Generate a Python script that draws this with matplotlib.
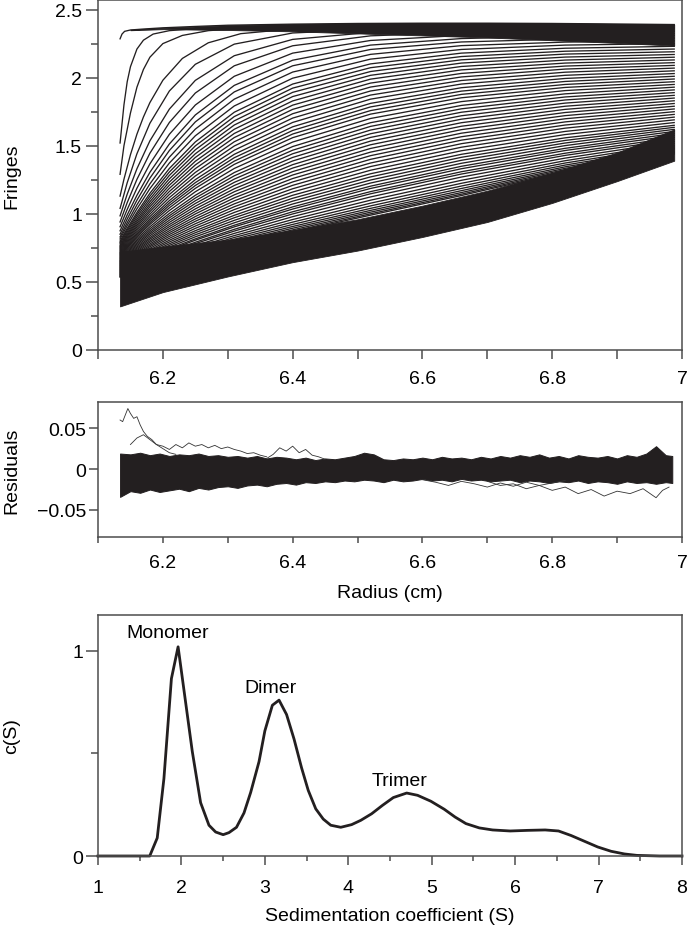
import numpy as np
import matplotlib.pyplot as plt

plt.rcParams['font.family'] = ['Liberation Sans', 'DejaVu Sans']
plt.rcParams['font.size'] = 14

INK = '#231f20'
SPINE = '#4d4d4d'

# ---------------- top panel: interference scans (fringes vs radius) ----------------
# first scans, read individually (steep rise at the meniscus)
scan1_r = [6.134, 6.137, 6.141, 6.15, 6.17, 6.2, 6.25, 6.3, 6.4, 6.5, 6.6, 6.7, 6.8, 6.9, 6.988]
scan1_f = [2.285, 2.32, 2.34, 2.35, 2.357, 2.366, 2.376, 2.385, 2.393, 2.398, 2.40, 2.40, 2.398, 2.394, 2.39]
scan2_r = [6.134, 6.14, 6.145, 6.15, 6.16, 6.17, 6.185, 6.21, 6.25, 6.3, 6.4, 6.5, 6.6, 6.7, 6.8, 6.9, 6.988]
scan2_f = [1.52, 1.80, 1.97, 2.08, 2.21, 2.275, 2.32, 2.345, 2.36, 2.372, 2.385, 2.392, 2.396, 2.396, 2.393, 2.389, 2.385]
scan3_r = [6.134, 6.14, 6.15, 6.16, 6.17, 6.18, 6.2, 6.23, 6.27, 6.32, 6.4, 6.5, 6.6, 6.7, 6.8, 6.9, 6.988]
scan3_f = [1.29, 1.50, 1.74, 1.93, 2.06, 2.15, 2.25, 2.31, 2.345, 2.362, 2.374, 2.383, 2.388, 2.39, 2.388, 2.384, 2.38]
scan4_f = [1.13, 1.254, 1.434, 1.585, 1.711, 1.817, 1.981, 2.141, 2.256, 2.323, 2.358, 2.367, 2.372, 2.372, 2.371, 2.37, 2.37]

# later scans, fringe value of every scan read at fixed radii
scan_radii = [6.134, 6.145, 6.16, 6.18, 6.21, 6.25, 6.31, 6.4, 6.52, 6.66, 6.82, 6.988]
f_6134 = [1.04, 0.985, 0.94, 0.905, 0.875, 0.85, 0.83, 0.815, 0.80, 0.79, 0.78, 0.77, 0.762, 0.755, 0.748,
          0.741, 0.734, 0.727, 0.72, 0.714, 0.708, 0.702, 0.696, 0.69, 0.684, 0.678, 0.672, 0.666, 0.66,
          0.655, 0.65, 0.645, 0.64, 0.635, 0.63, 0.625, 0.62, 0.615, 0.61, 0.605, 0.60, 0.595, 0.59, 0.585,
          0.58, 0.575, 0.57, 0.565, 0.56, 0.555, 0.55, 0.545, 0.54, 0.535]
f_6145 = [1.228, 1.144, 1.082, 1.032, 0.992, 0.962, 0.935, 0.914, 0.893, 0.880, 0.867, 0.854, 0.843, 0.833,
          0.822, 0.812, 0.802, 0.792, 0.783, 0.774, 0.766, 0.758, 0.750, 0.741, 0.733, 0.725, 0.717, 0.709,
          0.702, 0.695, 0.688, 0.682, 0.675, 0.668, 0.662, 0.655, 0.649, 0.643, 0.636, 0.630, 0.624, 0.618,
          0.612, 0.606, 0.600, 0.594, 0.588, 0.582, 0.576, 0.57, 0.565, 0.56, 0.555, 0.55]
f_6160 = [1.441, 1.331, 1.253, 1.188, 1.136, 1.100, 1.066, 1.037, 1.010, 0.994, 0.977, 0.960, 0.945, 0.931,
          0.917, 0.904, 0.890, 0.877, 0.863, 0.852, 0.841, 0.831, 0.819, 0.807, 0.797, 0.786, 0.776, 0.766,
          0.756, 0.747, 0.738, 0.729, 0.721, 0.712, 0.704, 0.695, 0.687, 0.679, 0.671, 0.663, 0.656, 0.648,
          0.642, 0.634, 0.628, 0.620, 0.613, 0.606, 0.60, 0.594, 0.588, 0.582, 0.577, 0.572]
f_6180 = [1.665, 1.536, 1.445, 1.367, 1.305, 1.262, 1.220, 1.185, 1.151, 1.130, 1.109, 1.089, 1.070, 1.052,
          1.033, 1.016, 0.998, 0.980, 0.963, 0.949, 0.935, 0.922, 0.905, 0.890, 0.876, 0.863, 0.851, 0.838,
          0.825, 0.814, 0.802, 0.791, 0.779, 0.768, 0.758, 0.747, 0.736, 0.726, 0.716, 0.706, 0.697, 0.687,
          0.680, 0.671, 0.663, 0.654, 0.646, 0.638, 0.631, 0.624, 0.617, 0.611, 0.605, 0.60]
f_6210 = [1.902, 1.769, 1.671, 1.584, 1.513, 1.465, 1.416, 1.373, 1.333, 1.307, 1.282, 1.257, 1.233, 1.210,
          1.187, 1.164, 1.142, 1.119, 1.097, 1.079, 1.062, 1.044, 1.024, 1.003, 0.986, 0.970, 0.953, 0.937,
          0.921, 0.906, 0.891, 0.876, 0.862, 0.848, 0.834, 0.820, 0.806, 0.793, 0.780, 0.768, 0.756, 0.744,
          0.735, 0.724, 0.715, 0.704, 0.694, 0.685, 0.676, 0.668, 0.66, 0.653, 0.646, 0.64]
f_6250 = [2.098, 1.980, 1.887, 1.799, 1.726, 1.675, 1.622, 1.573, 1.528, 1.499, 1.470, 1.441, 1.414, 1.386,
          1.359, 1.332, 1.304, 1.278, 1.251, 1.229, 1.208, 1.187, 1.162, 1.136, 1.116, 1.096, 1.076, 1.056,
          1.036, 1.017, 0.999, 0.980, 0.962, 0.945, 0.927, 0.910, 0.893, 0.876, 0.861, 0.846, 0.831, 0.816,
          0.806, 0.791, 0.781, 0.767, 0.754, 0.742, 0.731, 0.721, 0.711, 0.702, 0.694, 0.686]
f_6310 = [2.246, 2.161, 2.087, 2.010, 1.943, 1.895, 1.842, 1.792, 1.746, 1.714, 1.683, 1.652, 1.621, 1.590,
          1.560, 1.529, 1.498, 1.467, 1.437, 1.412, 1.387, 1.363, 1.333, 1.303, 1.279, 1.255, 1.231, 1.208,
          1.184, 1.162, 1.139, 1.117, 1.095, 1.073, 1.052, 1.031, 1.010, 0.989, 0.971, 0.952, 0.934, 0.916,
          0.904, 0.886, 0.873, 0.856, 0.840, 0.826, 0.813, 0.801, 0.790, 0.780, 0.771, 0.763]
f_6400 = [2.328, 2.281, 2.234, 2.180, 2.128, 2.087, 2.041, 1.996, 1.953, 1.923, 1.892, 1.861, 1.829, 1.798,
          1.767, 1.735, 1.703, 1.671, 1.639, 1.612, 1.586, 1.559, 1.527, 1.494, 1.467, 1.441, 1.414, 1.388,
          1.361, 1.336, 1.310, 1.285, 1.259, 1.234, 1.209, 1.184, 1.160, 1.136, 1.114, 1.093, 1.072, 1.051,
          1.035, 1.015, 0.999, 0.979, 0.958, 0.939, 0.922, 0.907, 0.894, 0.882, 0.872, 0.864]
f_6520 = [2.354, 2.332, 2.307, 2.273, 2.239, 2.207, 2.171, 2.136, 2.101, 2.073, 2.045, 2.017, 1.989, 1.960,
          1.931, 1.902, 1.872, 1.842, 1.811, 1.785, 1.758, 1.732, 1.700, 1.669, 1.642, 1.615, 1.588, 1.561,
          1.534, 1.507, 1.480, 1.453, 1.427, 1.400, 1.373, 1.347, 1.320, 1.294, 1.271, 1.248, 1.226, 1.203,
          1.186, 1.163, 1.147, 1.124, 1.100, 1.078, 1.058, 1.040, 1.025, 1.012, 1.000, 0.99]
f_6660 = [2.359, 2.346, 2.332, 2.310, 2.287, 2.262, 2.235, 2.207, 2.180, 2.155, 2.131, 2.107, 2.082, 2.057,
          2.031, 2.005, 1.979, 1.953, 1.926, 1.901, 1.877, 1.852, 1.824, 1.796, 1.771, 1.746, 1.720, 1.695,
          1.669, 1.643, 1.618, 1.592, 1.566, 1.541, 1.515, 1.489, 1.463, 1.437, 1.415, 1.393, 1.371, 1.349,
          1.331, 1.309, 1.292, 1.270, 1.246, 1.224, 1.204, 1.186, 1.170, 1.156, 1.144, 1.134]
f_6820 = [2.36, 2.349, 2.338, 2.322, 2.305, 2.283, 2.261, 2.239, 2.216, 2.194, 2.173, 2.151, 2.129, 2.107,
          2.085, 2.063, 2.040, 2.017, 1.994, 1.972, 1.950, 1.928, 1.905, 1.881, 1.858, 1.836, 1.813, 1.790,
          1.767, 1.744, 1.721, 1.698, 1.675, 1.652, 1.629, 1.605, 1.582, 1.558, 1.539, 1.520, 1.501, 1.481,
          1.465, 1.445, 1.429, 1.409, 1.39, 1.373, 1.358, 1.345, 1.334, 1.325, 1.317, 1.31]
f_6988 = [2.36, 2.35, 2.34, 2.325, 2.31, 2.29, 2.27, 2.25, 2.23, 2.21, 2.19, 2.17, 2.15, 2.13, 2.11, 2.09,
          2.07, 2.05, 2.03, 2.01, 1.99, 1.97, 1.95, 1.93, 1.91, 1.89, 1.87, 1.85, 1.83, 1.81, 1.79, 1.77,
          1.75, 1.73, 1.71, 1.69, 1.67, 1.65, 1.635, 1.62, 1.605, 1.59, 1.575, 1.56, 1.545, 1.53,
          1.515, 1.50, 1.49, 1.48, 1.47, 1.46, 1.45, 1.44]

# densely packed scans: plateau band on top, late scans at the bottom
plateau_r = [6.15, 6.2, 6.3, 6.4, 6.5, 6.6, 6.7, 6.8, 6.9, 6.988]
plateau_hi = [2.352, 2.366, 2.385, 2.393, 2.398, 2.40, 2.40, 2.398, 2.394, 2.39]
plateau_lo = [2.348, 2.356, 2.35, 2.34, 2.325, 2.31, 2.295, 2.275, 2.255, 2.235]
late_r = [6.134, 6.2, 6.3, 6.4, 6.5, 6.6, 6.7, 6.8, 6.9, 6.988]
late_lo = [0.32, 0.425, 0.54, 0.645, 0.73, 0.83, 0.94, 1.08, 1.24, 1.39]
late_hi = [0.72, 0.76, 0.81, 0.88, 0.96, 1.06, 1.17, 1.30, 1.45, 1.62]

# ---------------- middle panel: residuals ----------------
res_r = [6.134, 6.15, 6.165, 6.18, 6.195, 6.21, 6.225, 6.24, 6.255, 6.27,
         6.285, 6.3, 6.315, 6.33, 6.345, 6.36, 6.375, 6.39, 6.405, 6.42,
         6.435, 6.45, 6.465, 6.48, 6.495, 6.51, 6.525, 6.54, 6.555, 6.57,
         6.585, 6.6, 6.615, 6.63, 6.645, 6.66, 6.675, 6.69, 6.705, 6.72,
         6.735, 6.75, 6.765, 6.78, 6.795, 6.81, 6.825, 6.84, 6.855, 6.87,
         6.885, 6.9, 6.915, 6.93, 6.945, 6.96, 6.975, 6.985]
res_hi = [0.019, 0.018, 0.020, 0.017, 0.019, 0.016, 0.018, 0.017, 0.019, 0.016,
          0.017, 0.015, 0.016, 0.014, 0.016, 0.013, 0.015, 0.014, 0.012, 0.014,
          0.011, 0.013, 0.012, 0.014, 0.016, 0.020, 0.018, 0.012, 0.011, 0.013,
          0.012, 0.014, 0.012, 0.015, 0.013, 0.014, 0.012, 0.015, 0.013, 0.016,
          0.014, 0.017, 0.015, 0.018, 0.014, 0.016, 0.013, 0.017, 0.015, 0.014,
          0.016, 0.013, 0.017, 0.015, 0.019, 0.028, 0.017, 0.016]
res_lo = [-0.034, -0.027, -0.029, -0.025, -0.028, -0.026, -0.024, -0.027, -0.023, -0.025,
          -0.022, -0.021, -0.023, -0.020, -0.019, -0.021, -0.018, -0.017, -0.019, -0.016,
          -0.017, -0.015, -0.016, -0.014, -0.015, -0.013, -0.014, -0.016, -0.013, -0.015,
          -0.014, -0.012, -0.014, -0.013, -0.015, -0.012, -0.014, -0.013, -0.015, -0.014,
          -0.013, -0.016, -0.014, -0.015, -0.017, -0.015, -0.016, -0.014, -0.017, -0.015,
          -0.016, -0.018, -0.015, -0.017, -0.016, -0.018, -0.016, -0.017]
# single traces that leave the band
out1_r = [6.134, 6.138, 6.142, 6.146, 6.15, 6.155, 6.16, 6.165, 6.17, 6.176, 6.183, 6.19, 6.2, 6.21, 6.22,
          6.23, 6.24, 6.25, 6.26, 6.27, 6.28, 6.29, 6.3, 6.31, 6.32, 6.33, 6.34, 6.35, 6.36]
out1_v = [0.06, 0.058, 0.066, 0.074, 0.068, 0.062, 0.064, 0.054, 0.046, 0.04, 0.036, 0.03, 0.028, 0.024, 0.03,
          0.026, 0.032, 0.028, 0.03, 0.026, 0.029, 0.025, 0.027, 0.024, 0.022, 0.019, 0.02, 0.017, 0.015]
out2_r = [6.15, 6.16, 6.17, 6.18, 6.19, 6.2, 6.21, 6.22]
out2_v = [0.03, 0.038, 0.042, 0.036, 0.03, 0.025, 0.02, 0.018]
out3_r = [6.36, 6.37, 6.38, 6.39, 6.4, 6.41, 6.42, 6.43, 6.44, 6.45]
out3_v = [0.013, 0.018, 0.026, 0.022, 0.028, 0.02, 0.024, 0.017, 0.015, 0.012]
out4_r = [6.7, 6.72, 6.74, 6.76, 6.78, 6.8, 6.82, 6.84, 6.86, 6.88, 6.9, 6.92, 6.94, 6.96, 6.97, 6.98]
out4_v = [-0.015, -0.02, -0.018, -0.024, -0.02, -0.026, -0.022, -0.03, -0.025, -0.033, -0.027, -0.03,
          -0.024, -0.035, -0.026, -0.022]
out5_r = [6.6, 6.62, 6.64, 6.66, 6.68, 6.7, 6.72, 6.74, 6.76, 6.78, 6.8, 6.82]
out5_v = [-0.013, -0.016, -0.02, -0.015, -0.018, -0.022, -0.017, -0.021, -0.016, -0.02, -0.017, -0.014]

# ---------------- bottom panel: c(s) distribution ----------------
s_values = [1.0, 1.5, 1.62, 1.71, 1.79, 1.88, 1.96, 2.04, 2.13, 2.23, 2.33, 2.41, 2.5, 2.57, 2.66, 2.75,
            2.83, 2.93, 3.0, 3.09, 3.17, 3.26, 3.35, 3.44, 3.52, 3.61, 3.7, 3.79, 3.91, 4.04, 4.15, 4.28,
            4.41, 4.54, 4.7, 4.83, 4.99, 5.15, 5.28, 5.41, 5.57, 5.73, 5.94, 6.15, 6.36, 6.52, 6.67, 6.83,
            6.99, 7.15, 7.31, 7.46, 7.73, 8.0]
cs_values = [0, 0, 0, 0.088, 0.377, 0.865, 1.02, 0.78, 0.51, 0.26, 0.15, 0.117, 0.104, 0.114, 0.14, 0.21,
             0.31, 0.46, 0.61, 0.735, 0.76, 0.69, 0.57, 0.43, 0.32, 0.23, 0.18, 0.15, 0.14, 0.153, 0.174,
             0.206, 0.247, 0.285, 0.307, 0.296, 0.267, 0.228, 0.19, 0.158, 0.137, 0.127, 0.122, 0.125,
             0.127, 0.122, 0.10, 0.072, 0.044, 0.023, 0.01, 0.003, 0, 0]
species = ['Monomer', 'Dimer', 'Trimer']
species_s = [1.84, 3.07, 4.62]
species_y = [1.09, 0.82, 0.37]


def frame(ax):
    for sp in ax.spines.values():
        sp.set_color(SPINE)
        sp.set_linewidth(1.1)
    ax.tick_params(which='both', direction='out', color=SPINE, width=1.1, labelsize=14)


fig = plt.figure(figsize=(6.88, 9.29), dpi=100)
W = 584 / 688
LEFT = 98 / 688

# top panel
ax1 = fig.add_axes([LEFT, 0.6222, W, 0.3767])
ax1.fill_between(late_r, late_lo, late_hi, color=INK, lw=0.6)
ax1.fill_between(plateau_r, plateau_lo, plateau_hi, color=INK, lw=0.6)
for r, f in [(scan1_r, scan1_f), (scan2_r, scan2_f), (scan3_r, scan3_f), (scan3_r, scan4_f)]:
    ax1.plot(r, f, color=INK, lw=0.95)
later = np.array([f_6134, f_6145, f_6160, f_6180, f_6210, f_6250, f_6310, f_6400,
                  f_6520, f_6660, f_6820, f_6988]).T
for f in later:
    ax1.plot(scan_radii, f, color=INK, lw=0.95)
ax1.set_xlim(6.1, 7.0)
ax1.set_ylim(0, 2.57)
frame(ax1)
ax1.set_xticks([6.2, 6.4, 6.6, 6.8, 7.0], ['6.2', '6.4', '6.6', '6.8', '7'])
ax1.set_xticks([6.1, 6.3, 6.5, 6.7, 6.9], minor=True)
ax1.set_yticks([0, 0.5, 1, 1.5, 2, 2.5], ['0', '0.5', '1', '1.5', '2', '2.5'])
ax1.set_yticks([0.25, 0.75, 1.25, 1.75, 2.25], minor=True)
ax1.tick_params(axis='x', which='both', length=6.5, pad=8)
ax1.tick_params(axis='y', which='major', length=8.5, pad=3)
ax1.tick_params(axis='y', which='minor', length=4.8)
ax1.set_ylabel('Fringes', fontsize=14)
ax1.yaxis.set_label_coords(-0.133, 0.5)

# residuals
ax2 = fig.add_axes([LEFT, 0.4209, W, 0.1453])
ax2.fill_between(res_r, res_lo, res_hi, color=INK, lw=0.7)
for r, v in [(out1_r, out1_v), (out2_r, out2_v), (out3_r, out3_v), (out4_r, out4_v), (out5_r, out5_v)]:
    ax2.plot(r, v, color='#333333', lw=0.6)
ax2.set_xlim(6.1, 7.0)
ax2.set_ylim(-0.083, 0.082)
frame(ax2)
ax2.set_xticks([6.2, 6.4, 6.6, 6.8, 7.0], ['6.2', '6.4', '6.6', '6.8', '7'])
ax2.set_xticks([6.1, 6.3, 6.5, 6.7, 6.9], minor=True)
ax2.set_yticks([-0.05, 0, 0.05], ['\u22120.05', '0', '0.05'])
ax2.tick_params(axis='x', which='both', length=4.5, pad=8)
ax2.tick_params(axis='y', length=6.5, pad=2)
ax2.set_xlabel('Radius (cm)', fontsize=14, labelpad=9)
ax2.set_ylabel('Residuals', fontsize=14)
ax2.yaxis.set_label_coords(-0.133, 0.5)

# c(s)
ax3 = fig.add_axes([LEFT, 0.0775, W, 0.2594])
ax3.plot(s_values, cs_values, color=INK, lw=2.0, clip_on=False, solid_joinstyle='round')
for name, sx, sy in zip(species, species_s, species_y):
    ax3.text(sx, sy, name, ha='center', va='center', fontsize=14)
ax3.set_xlim(1, 8)
ax3.set_ylim(0, 1.175)
frame(ax3)
ax3.set_xticks([1, 2, 3, 4, 5, 6, 7, 8])
ax3.set_xticks([1.5, 2.5, 3.5, 4.5, 5.5, 6.5, 7.5], minor=True)
ax3.set_yticks([0, 1], ['0', '1'])
ax3.set_yticks([0.5], minor=True)
ax3.tick_params(axis='x', which='major', length=6.7, pad=10)
ax3.tick_params(axis='x', which='minor', length=3.6)
ax3.tick_params(axis='y', which='major', length=8.5, pad=2)
ax3.tick_params(axis='y', which='minor', length=5.4)
ax3.set_xlabel('Sedimentation coefficient (S)', fontsize=14, labelpad=8)
ax3.set_ylabel('c(S)', fontsize=14)
ax3.yaxis.set_label_coords(-0.133, 0.5)

fig.savefig('out.png', dpi=100)
